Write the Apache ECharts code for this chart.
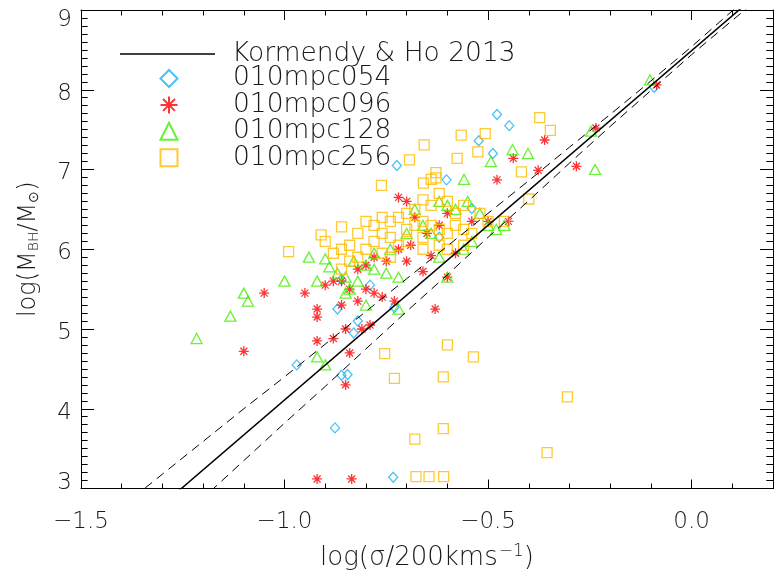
<!DOCTYPE html>
<html><head><meta charset="utf-8">
<script src="https://cdn.jsdelivr.net/npm/echarts@6/dist/echarts.min.js"></script>
<style>html,body{margin:0;padding:0;background:#fff}#c{width:776px;height:576px}</style>
</head><body><div id="c"></div><script>
// axis ranges / ticks
const xMin = -1.5, xMax = 0.2, xMajor = 0.5, xMinor = 0.1;
const yMin = 3, yMax = 9, yMajor = 1;
// Kormendy & Ho 2013 relation (solid) and its envelope (dashed)
const khX = [-1.6, 0.2];
const khY = [1.482, 9.366];
const envX = [-1.4,-1.3,-1.2,-1.1,-1.0,-0.9,-0.8,-0.7,-0.6,-0.5,-0.4,-0.3,-0.2,-0.1,0.0,0.1,0.2];
const envUpper = [2.77,3.18,3.59,4.00,4.40,4.81,5.22,5.63,6.04,6.45,6.86,7.28,7.69,8.11,8.54,8.99,9.44];
const envLower = [1.95,2.42,2.88,3.35,3.82,4.28,4.75,5.22,5.68,6.15,6.61,7.08,7.54,7.99,8.44,8.87,9.29];

const s054 = [[-0.092,8.03],[-0.478,7.69],[-0.448,7.55],[-0.523,7.36],[-0.488,7.20],[-0.724,7.05],[-0.602,6.87],
  [-0.54,6.51],[-0.62,6.15],[-0.86,5.62],[-0.79,5.55],[-0.87,5.25],[-0.83,4.95],[-0.82,5.1],[-0.97,4.55],
  [-0.86,4.42],[-0.845,4.43],[-0.876,3.76],[-0.733,3.14],[-0.73,5.27]];
const s096 = [[-0.086,8.06],[-0.235,7.52],[-0.361,7.37],[-0.438,7.14],[-0.377,6.99],[-0.283,7.04],[-0.478,6.87],
  [-0.45,6.35],[-0.5,6.35],[-0.54,6.35],[-0.6,6.45],[-0.62,6.3],[-0.65,6.2],[-0.69,6.05],[-0.72,6.0],[-0.64,5.92],
  [-0.58,5.95],[-0.66,5.72],[-0.7,5.85],[-0.75,5.85],[-0.78,5.9],[-0.8,5.8],[-0.82,5.75],[-0.86,5.6],[-0.88,5.6],
  [-0.9,5.55],[-0.84,5.5],[-0.8,5.5],[-0.78,5.45],[-0.82,5.35],[-0.76,5.4],[-0.73,5.35],[-0.86,5.3],[-0.92,5.25],
  [-0.92,5.15],[-0.95,5.45],[-1.1,4.72],[-1.05,5.45],[-0.92,4.85],[-0.88,4.88],[-0.85,5.0],[-0.81,5.0],[-0.79,5.05],
  [-0.84,4.7],[-0.85,4.3],[-0.92,3.12],[-0.835,3.12],[-0.63,5.25],[-0.6,5.65],[-0.72,6.65],[-0.7,6.6],[-0.68,6.4]];
const s128 = [[-0.102,8.125],[-0.247,7.48],[-0.237,7.0],[-0.44,7.25],[-0.402,7.2],[-0.493,7.10],[-0.559,6.875],
  [-1.216,4.88],[-1.133,5.16],[-1.10,5.45],[-1.09,5.35],[-1.0,5.6],[-0.92,5.6],[-0.9,5.88],[-0.89,5.78],[-0.87,5.7],
  [-0.85,5.65],[-0.83,5.85],[-0.8,5.8],[-0.78,5.75],[-0.75,5.7],[-0.72,5.65],[-0.9,4.55],[-0.92,4.65],[-0.68,6.5],
  [-0.62,6.6],[-0.6,6.55],[-0.58,6.5],[-0.55,6.6],[-0.52,6.45],[-0.5,6.3],[-0.64,6.2],[-0.66,6.3],[-0.7,6.2],
  [-0.74,6.0],[-0.78,5.95],[-0.82,5.6],[-0.84,5.5],[-0.72,5.25],[-0.8,5.3],[-0.85,5.45],[-0.6,5.65],[-0.56,6.0],
  [-0.54,6.1],[-0.48,6.25],[-0.46,6.3],[-0.62,5.9],[-0.94,5.9]];
const s256 = [[-0.373,7.65],[-0.347,7.49],[-0.566,7.43],[-0.507,7.45],[-0.657,7.31],[-0.525,7.22],[-0.693,7.12],
  [-0.576,7.14],[-0.418,6.97],[-0.628,6.96],[-0.640,6.875],[-0.628,6.895],[-0.659,6.83],[-0.762,6.80],
  [-0.40,6.63],[-0.5,6.35],[-0.52,6.45],[-0.56,6.55],[-0.58,6.45],[-0.6,6.6],[-0.62,6.7],[-0.64,6.55],[-0.66,6.62],
  [-0.68,6.5],[-0.7,6.45],[-0.72,6.4],[-0.74,6.35],[-0.76,6.4],[-0.78,6.3],[-0.8,6.35],[-0.82,6.2],[-0.84,6.05],
  [-0.86,6.0],[-0.88,5.95],[-0.9,6.1],[-0.91,6.18],[-0.99,5.97],[-0.86,6.28],[-0.76,6.2],[-0.74,6.15],[-0.7,6.25],
  [-0.68,6.3],[-0.66,6.35],[-0.64,6.3],[-0.62,6.25],[-0.6,6.2],[-0.58,6.3],[-0.56,6.25],[-0.54,6.2],[-0.66,6.15],
  [-0.7,6.1],[-0.72,6.05],[-0.78,6.1],[-0.8,6.0],[-0.82,5.9],[-0.84,5.85],[-0.86,5.75],[-0.76,5.95],[-0.74,5.9],
  [-0.66,6.0],[-0.62,6.05],[-0.6,6.0],[-0.56,6.05],[-0.46,6.35],[-0.754,4.69],[-0.73,4.38],[-0.6,4.8],[-0.61,4.4],
  [-0.536,4.65],[-0.68,3.62],[-0.61,3.75],[-0.677,3.15],[-0.645,3.15],[-0.609,3.15],[-0.305,4.15],[-0.355,3.45]];

const FONT = '"DejaVu Sans ExtraLight", "DejaVu Sans"';
const TXT = '#1a1a1a';
const FW = 200;
const C054 = '#1ab2f5', C096 = '#ff0000', C128 = '#44ee00', C256 = '#ffbb00';
const starPath = 'path://M0,-10L0,10M-10,0L10,0M-7,-7L7,7M-7,7L7,-7';

function fmtX(v){
  const k = v / xMajor;
  if (Math.abs(k - Math.round(k)) > 1e-6) return '';
  return v.toFixed(1).replace('-', '\u2212');
}
function fmtY(v){
  if (v === yMax) return '{t|' + v + '}';
  if (v === yMin) return '{b|' + v + '}';
  return '{n|' + v + '}';
}
const base = {fontFamily: FONT, fontWeight: FW, fontSize: 23, color: TXT};
const labRich = {
  n: Object.assign({}, base, {padding: [8,0,0,0]}),
  t: Object.assign({}, base, {padding: [20,0,0,0]}),
  b: Object.assign({}, base, {padding: [0,0,10,0]})
};
const blk = {color: '#000', width: 1};

function xAx(pos, interval, len, showLine, showLabel){
  return {type:'value', position: pos, min: xMin, max: xMax, interval: interval,
    axisLine:{show: showLine, onZero:false, lineStyle: blk},
    axisTick:{show:true, inside:true, length: len, lineStyle: blk},
    axisLabel:Object.assign({show: showLabel, formatter: fmtX, margin: 22}, base),
    splitLine:{show:false}};
}
function yAx(pos, len, mlen, showLabel){
  return {type:'value', position: pos, min: yMin, max: yMax, interval: yMajor,
    axisLine:{show:true, onZero:false, lineStyle: blk},
    axisTick:{show:true, inside:true, length: len, lineStyle: blk},
    minorTick:{show:true, splitNumber: 10, length: mlen, lineStyle: blk},
    axisLabel:{show: showLabel, formatter: fmtY, margin: 9, rich: labRich},
    splitLine:{show:false}};
}

const xAxes = [
  xAx('bottom', xMajor, 9, true, true),
  xAx('bottom', xMinor, 5, false, false),
  xAx('top', xMajor, 10, true, false),
  xAx('top', xMinor, 5.5, false, false)
];
xAxes[0].name = 'log(\u03c3/200kms{sup|\u22121})';
xAxes[0].nameLocation = 'middle';
xAxes[0].nameGap = 55;
xAxes[0].nameTextStyle = Object.assign({}, base, {fontSize: 26,
  rich: {sup: Object.assign({}, base, {fontSize: 17, verticalAlign: 'top', padding:[0,0,12,1]})}});
const yAxes = [yAx('left', 13, 6.7, true), yAx('right', 13, 6.7, false)];
yAxes[0].name = 'log(M{sub|BH}/M{sub|\u2299})';
yAxes[0].nameLocation = 'middle';
yAxes[0].nameGap = 40;
yAxes[0].nameTextStyle = Object.assign({}, base, {fontSize: 24,
  rich: {sub: Object.assign({}, base, {fontSize: 14, verticalAlign: 'bottom', padding:[6,0,0,0]})}});

function scat(name, data, symbol, color, size){
  return {name: name, type:'scatter', data: data, symbol: symbol, symbolSize: size,
    xAxisIndex:0, yAxisIndex:0, silent:true,
    itemStyle:{color:'rgba(0,0,0,0)', borderColor: color, borderWidth: 1.3}};
}
const zip = (a,b) => a.map((v,i)=>[v,b[i]]);
const legText = {fontFamily: FONT, fontWeight: FW, fontSize: 26.5, color: TXT};

const option = {
  animation: false,
  backgroundColor: '#fff',
  grid: {left: 81, top: 10, width: 700, height: 483, containLabel: false},
  xAxis: xAxes,
  yAxis: yAxes,
  legend: [{
    orient: 'vertical', left: 120, top: 40.4, padding: 0, itemWidth: 95, itemHeight: 17, itemGap: -0.6,
    selectedMode: false,
    textStyle: Object.assign({}, legText, {padding: [0,0,0,12]}),
    data: [{name:'Kormendy & Ho 2013', icon: 'path://M0,0L95,0L95,1.5L0,1.5Z', itemStyle:{color:'#000'}}]
  },{
    orient: 'vertical', left: 159.5, top: 65, padding: 0, itemWidth: 17, itemHeight: 17, itemGap: -0.6,
    selectedMode: false,
    textStyle: Object.assign({}, legText, {padding: [0,0,0,50.5]}),
    data: ['010mpc054','010mpc096','010mpc128','010mpc256']
  }],
  series: [
    {name:'Kormendy & Ho 2013', type:'line', data: zip(khX, khY), symbol:'none', silent:true,
      lineStyle:{color:'#000', width:1.5}, itemStyle:{color:'#000'}},
    {name:'upper', type:'line', data: zip(envX, envUpper), symbol:'none', silent:true,
      lineStyle:{color:'#000', width:1, type:[9,6]}},
    {name:'lower', type:'line', data: zip(envX, envLower), symbol:'none', silent:true,
      lineStyle:{color:'#000', width:1, type:[9,6]}},
    scat('010mpc054', s054, 'diamond', C054, [9,10]),
    scat('010mpc096', s096, starPath, C096, 10),
    scat('010mpc128', s128, 'triangle', C128, [11,10]),
    scat('010mpc256', s256, 'rect', C256, 10)
  ]
};
const chart = echarts.init(document.getElementById('c'), null, {renderer:'canvas'});
chart.setOption(option);
</script></body></html>
